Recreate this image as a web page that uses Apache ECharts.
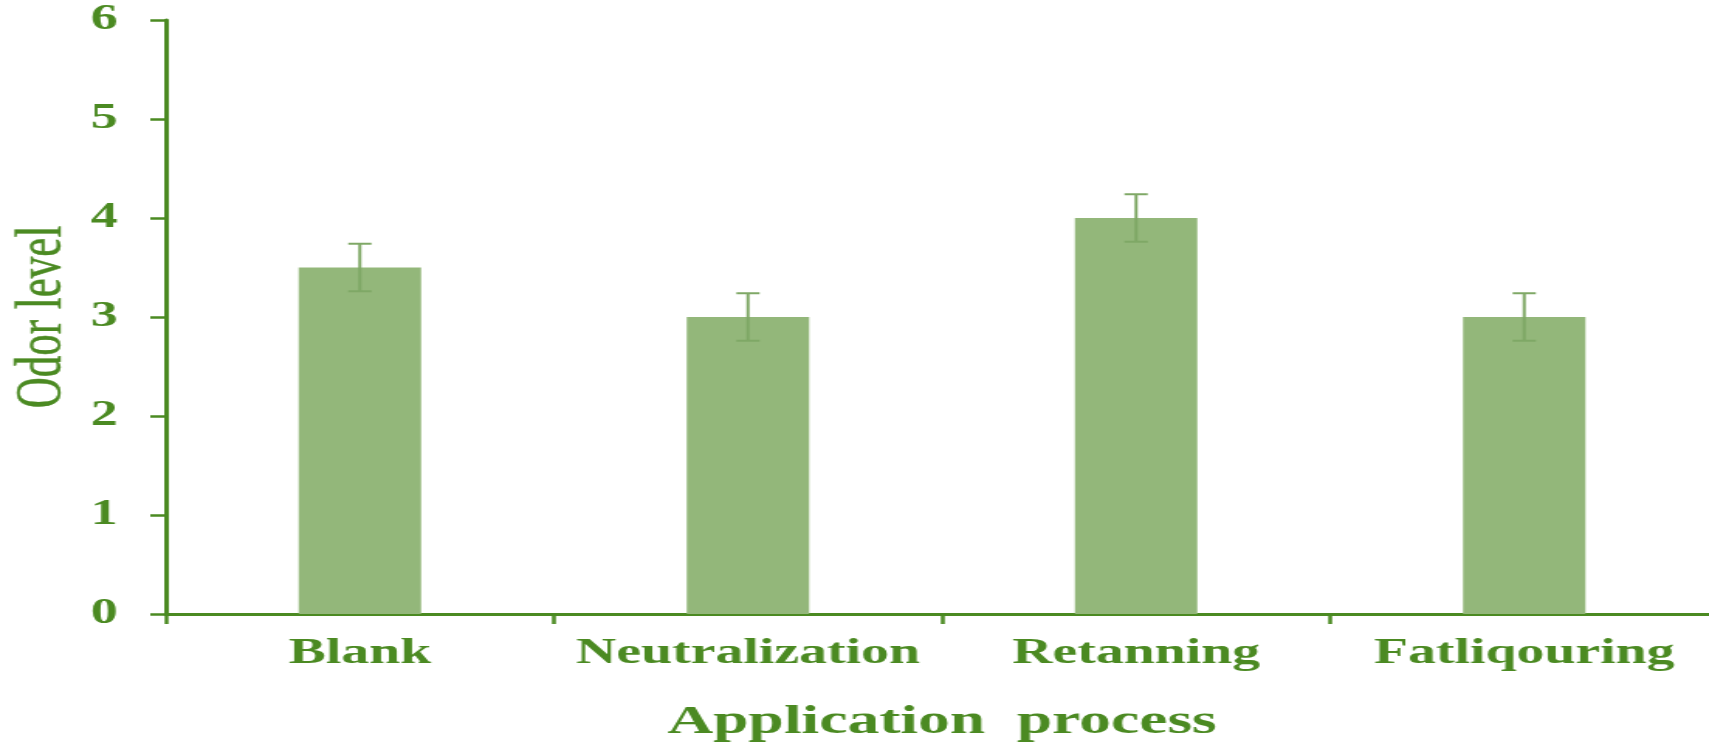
<!DOCTYPE html>
<html>
<head>
<meta charset="utf-8">
<script src="https://cdn.jsdelivr.net/npm/echarts@6/dist/echarts.min.js"></script>
<style>
html,body{margin:0;padding:0;background:#fff;overflow:hidden;}
#c{width:1103px;height:742px;transform:scaleX(1.5494);transform-origin:0 0;}
</style>
</head>
<body>
<div id="c"></div>
<script>
const categories = ['Blank', 'Neutralization', 'Retanning', 'Fatliqouring'];
const odorLevel = [3.5, 3.0, 4.0, 3.0];
const odorError = [0.24, 0.24, 0.24, 0.24];
const yTicks = [0, 1, 2, 3, 4, 5, 6];

const green = '#4b8a22';
const barColor = '#93b77a';
const errColor = '#7fa866';

const chart = echarts.init(document.getElementById('c'));
chart.setOption({
  animation: false,
  grid: { left: 107, top: 20, width: 1002, height: 594, containLabel: false, outerBoundsMode: 'none' },
  xAxis: {
    type: 'category',
    data: categories,
    name: 'Application  process',
    nameLocation: 'middle',
    nameGap: 88,
    nameTextStyle: { fontFamily: 'Liberation Serif', fontWeight: 'bold', fontSize: 41, color: green },
    axisLine: { show: true, lineStyle: { color: green, width: 3 } },
    axisTick: { show: true, interval: 0, alignWithLabel: false, length: 10, lineStyle: { color: green, width: 2.5 } },
    axisLabel: { interval: 0, fontFamily: 'Liberation Serif', fontWeight: 'bold', fontSize: 36, color: green, margin: 22 }
  },
  yAxis: {
    type: 'value',
    min: yTicks[0],
    max: yTicks[yTicks.length - 1],
    interval: 1,
    name: 'Odor level',
    nameLocation: 'middle',
    nameRotate: 90,
    nameGap: 58,
    nameMoveOverlap: false,
    nameTextStyle: { fontFamily: 'Liberation Serif', fontSize: 43, color: green, textBorderColor: green, textBorderWidth: 0.4 },
    splitLine: { show: false },
    axisLine: { show: true, lineStyle: { color: green, width: 3 } },
    axisTick: { show: true, length: 10, lineStyle: { color: green, width: 2.5 } },
    axisLabel: { fontFamily: 'Liberation Serif', fontWeight: 'bold', fontSize: 35, color: green, margin: 31 }
  },
  series: [
    {
      type: 'bar',
      data: odorLevel,
      barWidth: 79,
      itemStyle: { color: barColor }
    },
    {
      type: 'custom',
      data: categories.map((c, i) => [i, odorLevel[i], odorError[i]]),
      z: 5,
      renderItem: function (params, api) {
        const x = api.value(0), v = api.value(1), e = api.value(2);
        const hi = api.coord([x, v + e]);
        const lo = api.coord([x, v - e]);
        const hw = 7.5;
        const st = { stroke: errColor, lineWidth: 2 };
        return {
          type: 'group',
          children: [
            { type: 'line', shape: { x1: hi[0], y1: hi[1], x2: lo[0], y2: lo[1] }, style: st },
            { type: 'line', shape: { x1: hi[0] - hw, y1: hi[1], x2: hi[0] + hw, y2: hi[1] }, style: st },
            { type: 'line', shape: { x1: lo[0] - hw, y1: lo[1], x2: lo[0] + hw, y2: lo[1] }, style: st }
          ]
        };
      }
    }
  ]
});
</script>
</body>
</html>
